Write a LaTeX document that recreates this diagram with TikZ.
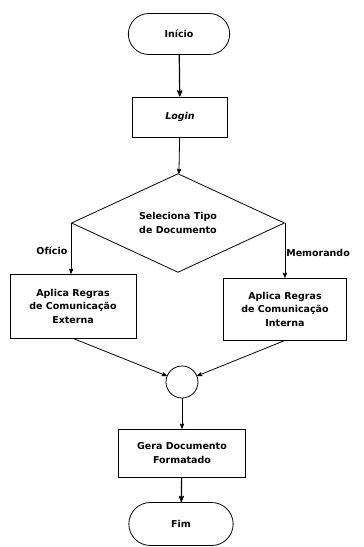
\documentclass[tikz,border=0pt]{standalone}
\usepackage{fontspec}
\setsansfont{DejaVu Sans}
\usetikzlibrary{arrows, positioning, shapes, calc}

\begin{document}
\begin{tikzpicture}[x=1pt, y=1pt,
  font=\sffamily\bfseries\fontsize{9.5}{13.5}\selectfont,
  terminal/.style={draw,thick,rounded rectangle,minimum width=108pt,minimum height=41pt},
  process/.style={draw,thick,rectangle,minimum width=126pt,minimum height=64pt},
  decision/.style={draw,thick,diamond,minimum width=213pt,minimum height=89pt,inner sep=0pt},
  junction/.style={draw,thick,circle,minimum size=32pt,inner sep=0pt},
  to/.style={->,>=stealth',thick},
  every node/.style={align=center}]

  \useasboundingbox (0,0) rectangle (364,-547);

  % Inicio e Login
  \node[terminal] (inicio) at (179,-34) {Início};
  \node[process, minimum width=95pt, minimum height=40pt] (login) at (180,-117) {\itshape Login};

  % Decisao
  \node[decision] (tipo) at (178,-223) {Seleciona Tipo\\de Documento};
  \node[process] (externa) at (73,-306) {Aplica Regras\\de Comunicação\\Externa};
  \node[process, minimum width=123pt, minimum height=62pt] (interna) at (285,-309) {Aplica Regras\\de Comunicação\\Interna};

  % Juncao e Fim
  \node[junction] (juncao) at (182,-382) {};
  \node[process, minimum width=127pt, minimum height=48pt] (gera) at (182,-453) {Gera Documento\\Formatado};
  \node[terminal, minimum width=111pt, minimum height=43pt] (fim) at (181,-524) {Fim};

  \draw[to, very thick] (inicio) -- (login);
  \draw[to] (login) -- (tipo);
  \draw[to] (tipo.west) -- node[pos=.55,left] {Ofício} (tipo.west |- externa.north);
  \draw[to] (tipo.east) -- node[pos=.55,right,inner sep=1pt] {Memorando} (tipo.east |- interna.north);
  \draw[to] (externa.south) -- (juncao);
  \draw[to] (interna.south) -- (juncao);
  \draw[to] (juncao) -- (gera);
  \draw[to, very thick] (gera) -- (fim);

\end{tikzpicture}
\end{document}
